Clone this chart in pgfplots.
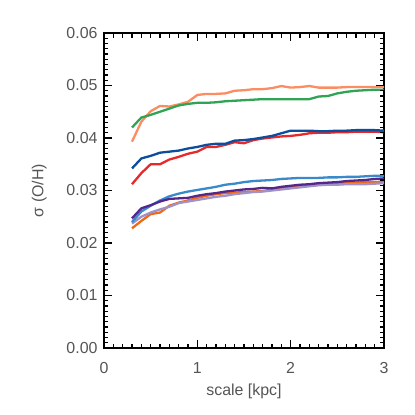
\documentclass[border=0pt]{standalone}
\usepackage{pgfplots}
\pgfplotsset{compat=1.18}
\usepackage{pgfplotstable}
\usepackage{fontspec}
\setmainfont{Liberation Sans}

\definecolor{salmon}{HTML}{FC8D62}
\definecolor{cgreen}{HTML}{31A354}
\definecolor{cred}{HTML}{E8282A}
\definecolor{dblue}{HTML}{0B4F9C}
\definecolor{lblue}{HTML}{3A8ACB}
\definecolor{cpurple}{HTML}{54278F}
\definecolor{corange}{HTML}{F16913}
\definecolor{lav}{HTML}{9E92C8}
\definecolor{txt}{HTML}{555555}

% sigma(O/H) against scale, one column per run
\pgfplotstableread{
s   salmon green  red    dblue  orange lav    lblue  purple
0.3 0.0393 0.0420 0.0312 0.0342 0.0228 0.0237 0.0240 0.0247
0.4 0.0431 0.0439 0.0333 0.0361 0.0242 0.0250 0.0260 0.0266
0.5 0.0451 0.0444 0.0350 0.0366 0.0255 0.0258 0.0271 0.0272
0.6 0.0461 0.0450 0.0350 0.0372 0.0258 0.0264 0.0281 0.0279
0.7 0.0460 0.0456 0.0359 0.0374 0.0271 0.0269 0.0289 0.0284
0.8 0.0464 0.0462 0.0364 0.0376 0.0277 0.0276 0.0294 0.0285
0.9 0.0469 0.0465 0.0370 0.0380 0.0281 0.0279 0.0298 0.0286
1.0 0.0482 0.0467 0.0374 0.0383 0.0286 0.0282 0.0301 0.0290
1.1 0.0484 0.0467 0.0383 0.0387 0.0290 0.0285 0.0304 0.0293
1.2 0.0484 0.0468 0.0383 0.0389 0.0293 0.0288 0.0307 0.0295
1.3 0.0485 0.0470 0.0387 0.0389 0.0295 0.0290 0.0311 0.0298
1.4 0.0490 0.0471 0.0392 0.0395 0.0296 0.0293 0.0313 0.0300
1.5 0.0491 0.0472 0.0390 0.0396 0.0297 0.0295 0.0316 0.0302
1.6 0.0493 0.0473 0.0396 0.0398 0.0298 0.0297 0.0318 0.0303
1.7 0.0493 0.0474 0.0399 0.0401 0.0299 0.0298 0.0319 0.0305
1.8 0.0495 0.0474 0.0401 0.0404 0.0302 0.0300 0.0320 0.0304
1.9 0.0499 0.0474 0.0403 0.0409 0.0304 0.0302 0.0322 0.0307
2.0 0.0496 0.0474 0.0404 0.0414 0.0306 0.0304 0.0323 0.0309
2.1 0.0497 0.0474 0.0406 0.0414 0.0308 0.0306 0.0324 0.0311
2.2 0.0499 0.0474 0.0409 0.0414 0.0310 0.0308 0.0324 0.0312
2.3 0.0496 0.0479 0.0410 0.0413 0.0311 0.0310 0.0324 0.0314
2.4 0.0496 0.0480 0.0410 0.0413 0.0312 0.0311 0.0325 0.0315
2.5 0.0496 0.0485 0.0411 0.0414 0.0313 0.0311 0.0325 0.0316
2.6 0.0497 0.0488 0.0411 0.0414 0.0314 0.0312 0.0326 0.0318
2.7 0.0497 0.0490 0.0412 0.0415 0.0315 0.0312 0.0326 0.0319
2.8 0.0497 0.0491 0.0412 0.0415 0.0316 0.0312 0.0327 0.0320
2.9 0.0497 0.0492 0.0412 0.0415 0.0316 0.0313 0.0328 0.0322
3.0 0.0497 0.0492 0.0411 0.0414 0.0317 0.0314 0.0328 0.0323
}\sig

\begin{document}
\fontsize{16}{19}\selectfont
\begin{tikzpicture}
\useasboundingbox (-104bp,-67bp) rectangle (311bp,348bp);
\begin{axis}[
    at={(0,0)}, anchor=south west,
    scale only axis,
    width=280bp, height=315bp,
    xmin=0, xmax=3, ymin=0, ymax=0.06,
    xtick={0,1,2,3},
    ytick={0,0.01,0.02,0.03,0.04,0.05,0.06},
    scaled y ticks=false,
    tickwidth=8bp,
    tick align=inside,
    axis line style={black, line width=1.6bp},
    every major tick/.style={black, line width=1.4bp},
    tick label style={text=txt, font=\fontsize{16}{19}\selectfont},
    y tick label style={/pgf/number format/fixed, /pgf/number format/fixed zerofill, /pgf/number format/precision=2, xshift=-1bp},
    x tick label style={yshift=-9bp},
    /pgf/number format/assume math mode=true,
    xlabel={scale [kpc]},
    ylabel={σ (O/H)},
    label style={text=txt, font=\fontsize{16}{19}\selectfont},
    xlabel style={yshift=1bp},
    ylabel style={yshift=9bp},
    every axis plot/.append style={line width=2.3bp, line join=round},
]
\addplot[salmon]  table[x=s, y=salmon] {\sig};
\addplot[cgreen]  table[x=s, y=green]  {\sig};
\addplot[cred]    table[x=s, y=red]    {\sig};
\addplot[dblue]   table[x=s, y=dblue]  {\sig};
\addplot[corange] table[x=s, y=orange] {\sig};
\addplot[lav]     table[x=s, y=lav]    {\sig};
\addplot[lblue]   table[x=s, y=lblue]  {\sig};
\addplot[cpurple] table[x=s, y=purple] {\sig};
% tick marks on all four sides, drawn by hand
\pgfplotsinvokeforeach{1,...,29}{
  \draw[black, line width=1.2bp] (axis cs:#1/10,0) -- ++(0,4.5bp);
  \draw[black, line width=1.2bp] (axis cs:#1/10,0.06) -- ++(0,-4.5bp);
}
\pgfplotsinvokeforeach{0,...,3}{
  \draw[black, line width=1.4bp] (axis cs:#1,0) -- ++(0,8bp);
  \draw[black, line width=1.4bp] (axis cs:#1,0.06) -- ++(0,-8bp);
}
\pgfplotsinvokeforeach{1,...,59}{
  \draw[black, line width=1.2bp] (axis cs:0,#1/1000) -- ++(4.5bp,0);
  \draw[black, line width=1.2bp] (axis cs:3,#1/1000) -- ++(-4.5bp,0);
}
\pgfplotsinvokeforeach{0,...,6}{
  \draw[black, line width=1.4bp] (axis cs:0,#1/100) -- ++(8bp,0);
  \draw[black, line width=1.4bp] (axis cs:3,#1/100) -- ++(-8bp,0);
}
\end{axis}
\end{tikzpicture}
\end{document}
